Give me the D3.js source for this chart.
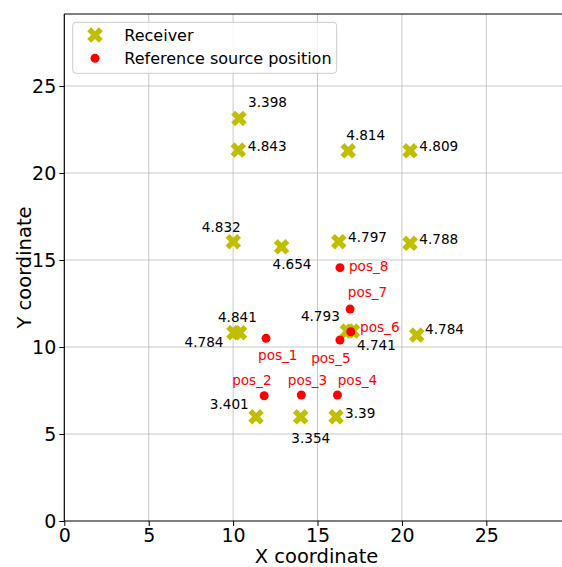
<!DOCTYPE html>
<html>
<head>
<meta charset="utf-8">
<script src="https://cdn.jsdelivr.net/npm/d3@7"></script>
<style>
  html, body { margin: 0; padding: 0; background: #ffffff; }
  svg { display: block; font-family: "DejaVu Sans", sans-serif; }
</style>
</head>
<body>
<svg id="chart" width="562" height="567"></svg>
<script>
// Receiver positions and their measured values
const receiverX = [10.35, 10.31, 16.82, 20.48, 10.01, 12.87, 16.26, 20.48, 10.05, 10.38, 16.77, 17.07, 20.88, 11.36, 14.00, 16.10];
const receiverY = [23.14, 21.32, 21.28, 21.28, 16.05, 15.76, 16.05, 15.96, 10.82, 10.82, 10.92, 10.92, 10.69, 5.99, 5.99, 5.99];
const receiverValue = ["3.398", "4.843", "4.814", "4.809", "4.832", "4.654", "4.797", "4.788", "4.841", "4.784", "4.793", "4.741", "4.784", "3.401", "3.354", "3.39"];

// Reference source positions
const sourceName = ["pos_1", "pos_2", "pos_3", "pos_4", "pos_5", "pos_6", "pos_7", "pos_8"];
const sourceX = [11.95, 11.84, 14.04, 16.18, 16.33, 16.97, 16.93, 16.33];
const sourceY = [10.50, 7.20, 7.24, 7.24, 10.40, 10.88, 12.18, 14.56];

// Tick values
const xTicks = [0, 5, 10, 15, 20, 25];
const yTicks = [0, 5, 10, 15, 20, 25];

// Annotation offsets in pixels (left edge of text, baseline)
const receiverLabelOffset = [
  [9, -11], [9.4, 0.7], [-2, -11], [9.3, 0.7], [-31.5, -9.7], [-9, 22],
  [9.3, 0.3], [9.3, 0.4], [-16, -10.7], [-55, 14.3], [-46.5, -9.6], [4.5, 18.7],
  [8.3, -1.3], [-46.3, -8], [-9.3, 26.7], [9, 1]
];
const sourceLabelOffset = [
  [-8, 21.8], [-32, -10.6], [-13.5, -10], [0.3, -10], [-28.8, 22.7], [9.3, 0], [-2.3, -11.6], [9, 3]
];

const svg = d3.select("#chart");
const plotLeft = 64.3, plotRight = 568.7, plotTop = 14, plotBottom = 521;

const x = d3.scaleLinear().domain([0, 29.88]).range([plotLeft, plotRight]);
const y = d3.scaleLinear().domain([0, 29.14]).range([plotBottom, plotTop]);

const olive = "#bfbf00";
const red = "#ff0000";

// Grid
const grid = svg.append("g");
grid.selectAll("line.gx").data(xTicks.filter(d => d > 0)).join("line")
  .attr("x1", d => x(d)).attr("x2", d => x(d))
  .attr("y1", plotTop).attr("y2", plotBottom)
  .attr("stroke", "#b0b0b0").attr("stroke-opacity", 0.7).attr("stroke-width", 1);
grid.selectAll("line.gy").data(yTicks.filter(d => d > 0)).join("line")
  .attr("x1", plotLeft).attr("x2", plotRight)
  .attr("y1", d => y(d)).attr("y2", d => y(d))
  .attr("stroke", "#b0b0b0").attr("stroke-opacity", 0.7).attr("stroke-width", 1);

// Axes
const xAxis = d3.axisBottom(x).tickValues(xTicks).tickSize(5).tickPadding(3).tickFormat(d3.format("d"));
const yAxis = d3.axisLeft(y).tickValues(yTicks).tickSize(5).tickPadding(3).tickFormat(d3.format("d"));

const gx = svg.append("g").attr("transform", `translate(0,${plotBottom})`).call(xAxis);
const gy = svg.append("g").attr("transform", `translate(${plotLeft},0)`).call(yAxis);
[gx, gy].forEach(g => {
  g.select(".domain").remove();
  g.selectAll(".tick line").attr("stroke", "#000").attr("stroke-width", 1);
  g.selectAll(".tick text").attr("fill", "#000").attr("font-size", 19)
    .attr("font-family", "DejaVu Sans, sans-serif");
});

// Spines
svg.append("line").attr("x1", plotLeft).attr("x2", plotLeft).attr("y1", plotTop).attr("y2", plotBottom)
  .attr("stroke", "#000").attr("stroke-width", 1.2);
svg.append("line").attr("x1", plotLeft).attr("x2", plotRight).attr("y1", plotBottom).attr("y2", plotBottom)
  .attr("stroke", "#000").attr("stroke-width", 1.2);
svg.append("line").attr("x1", plotLeft).attr("x2", plotRight).attr("y1", plotTop).attr("y2", plotTop)
  .attr("stroke", "#000").attr("stroke-width", 1.2);

// Axis labels
svg.append("text").attr("x", (plotLeft + plotRight) / 2).attr("y", 563)
  .attr("text-anchor", "middle").attr("font-size", 19.5).text("X coordinate");
svg.append("text").attr("transform", `translate(30.5,${(plotTop + plotBottom) / 2}) rotate(-90)`)
  .attr("text-anchor", "middle").attr("font-size", 19.5).text("Y coordinate");

// Filled X marker path
function xMarker(s) {
  const pts = [[0.25,0],[0.5,0.25],[0.75,0],[1,0.25],[0.75,0.5],[1,0.75],
               [0.75,1],[0.5,0.75],[0.25,1],[0,0.75],[0.25,0.5],[0,0.25]];
  return "M" + pts.map(p => [(p[0] - 0.5) * s, (p[1] - 0.5) * s].join(",")).join("L") + "Z";
}
const markerPath = xMarker(15.5);

const receivers = receiverX.map((v, i) => ({ x: v, y: receiverY[i], value: receiverValue[i], off: receiverLabelOffset[i] }));
const sources = sourceX.map((v, i) => ({ x: v, y: sourceY[i], name: sourceName[i], off: sourceLabelOffset[i] }));

// Receivers
svg.append("g").selectAll("path").data(receivers).join("path")
  .attr("d", markerPath)
  .attr("transform", d => `translate(${x(d.x)},${y(d.y)})`)
  .attr("fill", olive);

// Sources
svg.append("g").selectAll("circle").data(sources).join("circle")
  .attr("cx", d => x(d.x)).attr("cy", d => y(d.y)).attr("r", 4.5)
  .attr("fill", red);

// Value labels
svg.append("g").selectAll("text").data(receivers).join("text")
  .attr("x", d => x(d.x) + d.off[0]).attr("y", d => y(d.y) + d.off[1])
  .attr("font-size", 13.6).attr("fill", "#000").text(d => d.value);

// Source labels
svg.append("g").selectAll("text").data(sources).join("text")
  .attr("x", d => x(d.x) + d.off[0]).attr("y", d => y(d.y) + d.off[1])
  .attr("font-size", 13.6).attr("fill", red).text(d => d.name);

// Legend
const lg = svg.append("g");
lg.append("rect").attr("x", 72.7).attr("y", 22.3).attr("width", 264).attr("height", 51)
  .attr("rx", 3.5).attr("fill", "#fff").attr("fill-opacity", 0.8)
  .attr("stroke", "#cccccc").attr("stroke-width", 1);
lg.append("path").attr("d", markerPath).attr("transform", "translate(95,35)").attr("fill", olive);
lg.append("circle").attr("cx", 95).attr("cy", 58.3).attr("r", 4.5).attr("fill", red);
lg.append("text").attr("x", 124.3).attr("y", 40.8).attr("font-size", 16).text("Receiver");
lg.append("text").attr("x", 124.3).attr("y", 64.1).attr("font-size", 16).text("Reference source position");
</script>
</body>
</html>
